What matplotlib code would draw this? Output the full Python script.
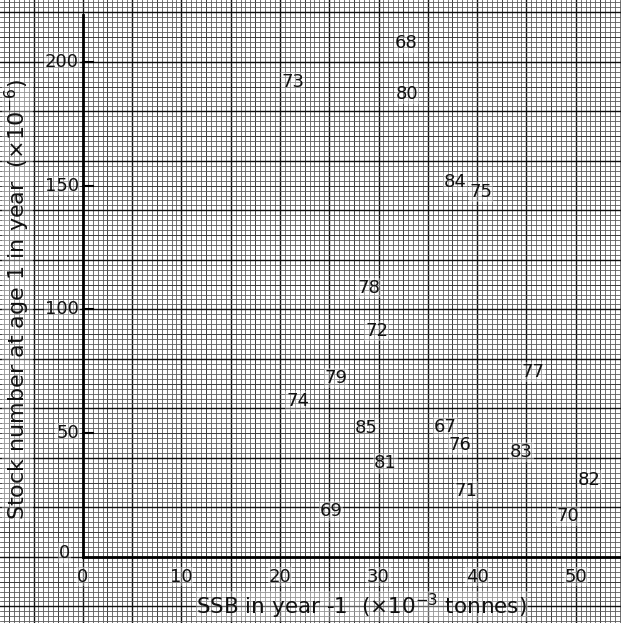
import numpy as np
import matplotlib
matplotlib.use("Agg")
import matplotlib.pyplot as plt

# Data: year labels placed at (SSB in year-1, stock number at age 1)
years = ["68", "73", "80", "84", "75", "78", "72", "79", "74", "77",
         "85", "67", "76", "83", "81", "82", "71", "69", "70"]
ssb = [32.8, 21.3, 32.9, 37.8, 40.4, 29.0, 29.8, 25.7, 21.8, 45.7,
       28.8, 36.8, 38.3, 44.5, 30.7, 51.4, 38.9, 25.2, 49.2]
recruits = [207.6, 191.9, 187.0, 151.5, 147.4, 108.6, 91.3, 72.3, 63.0, 74.7,
            52.1, 52.5, 45.2, 42.4, 37.9, 31.1, 26.6, 18.6, 16.5]

x_ticks = [0, 10, 20, 30, 40, 50]
y_ticks = [0, 50, 100, 150, 200]

W, H = 621, 623
fig = plt.figure(figsize=(W / 100, H / 100), dpi=100)
ax = fig.add_axes([0, 0, 1, 1])
xmin, xmax = -8.4, 54.6
ymin, ymax = -26.7, 225.0
ax.set_xlim(xmin, xmax)
ax.set_ylim(ymin, ymax)
ax.axis("off")
fig.patch.set_facecolor("white")

# graph paper
for xv in np.arange(-10, 60.01, 0.5):
    k = round(xv / 0.5)
    if k % 10 == 0:
        c, lw = "#111111", 1.0
    elif k % 5 == 0:
        c, lw = "#3a3a3a", 0.7
    else:
        c, lw = "#5a5a5a", 0.6
    ax.axvline(xv, color=c, lw=lw, zorder=0)
for yv in np.arange(-40, 240.01, 2):
    k = round(yv / 2)
    if k % 10 == 0:
        c, lw = "#111111", 1.0
    elif k % 5 == 0:
        c, lw = "#3a3a3a", 0.7
    else:
        c, lw = "#5a5a5a", 0.6
    ax.axhline(yv, color=c, lw=lw, zorder=0)

# axes lines
ax.plot([0, 0], [0, 219], color="black", lw=2.0, zorder=2)
ax.plot([0, 56], [0, 0], color="black", lw=2.0, zorder=2)

fs_tick = 13
box = dict(facecolor="white", edgecolor="none", alpha=0.35, pad=0.5)
for yt in y_ticks[1:]:
    ax.plot([0, 1.0], [yt, yt], color="black", lw=1.5, zorder=2)
    ax.text(-0.4, yt, str(yt), ha="right", va="center", fontsize=fs_tick,
            color="#111111", zorder=3, bbox=box)
ax.text(-1.3, 1.5, "0", ha="right", va="center", fontsize=fs_tick,
        color="#111111", zorder=3, bbox=box)
for xt in x_ticks:
    ax.text(xt, -8.0, str(xt), ha="center", va="center", fontsize=fs_tick,
            color="#111111", zorder=3, bbox=box)

# year labels
for lab, xv, yv in zip(years, ssb, recruits):
    ax.text(xv, yv, lab, ha="center", va="center", fontsize=13,
            color="#111111", zorder=3, bbox=box)

# axis titles
ax.text(28.3, -19.8, "SSB in year -1  (×10$^{-3}$ tonnes)", ha="center", va="center",
        fontsize=15.5, color="#111111", zorder=3, bbox=box)
ax.text(-6.6, 104, "Stock number at age 1 in year  (×10$^{-6}$)", ha="center", va="center",
        rotation=90, fontsize=16, color="#111111", zorder=3, bbox=box)

fig.savefig("out.png", dpi=100)
